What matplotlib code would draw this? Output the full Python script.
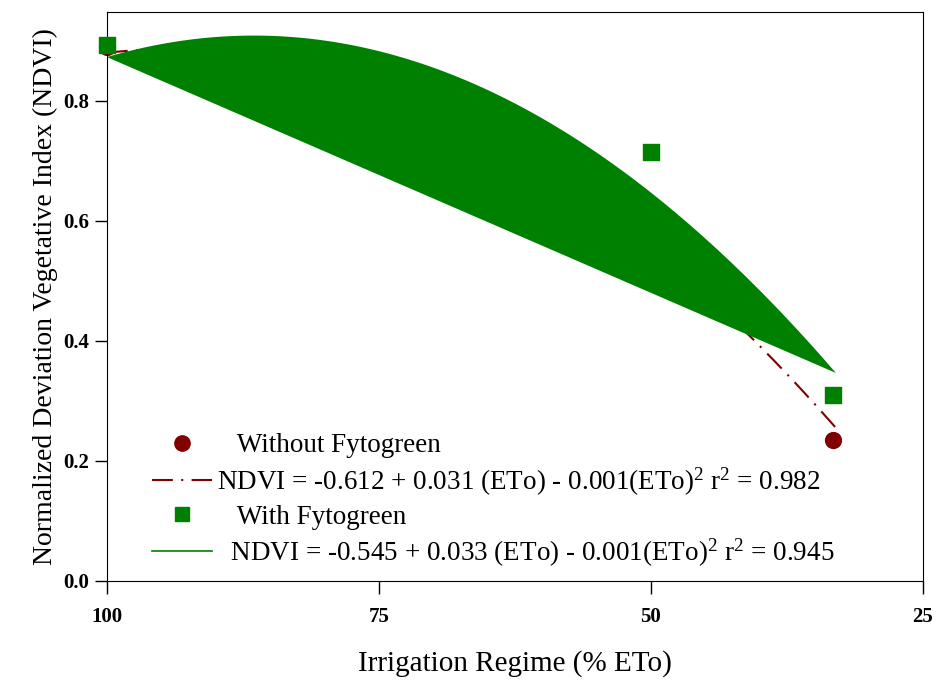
import matplotlib
matplotlib.use("Agg")
import matplotlib.pyplot as plt
import numpy as np
from matplotlib.lines import Line2D

plt.rcParams["font.family"] = ["Liberation Serif", "DejaVu Serif"]
plt.rcParams["mathtext.fontset"] = "custom"
plt.rcParams["mathtext.rm"] = "Liberation Serif"
plt.rcParams["mathtext.it"] = "Liberation Serif"

# measured data (% ETo, NDVI)
eto = [100, 50, 33.3]
ndvi_sin = [0.89, 0.60, 0.235]   # without Fytogreen
ndvi_con = [0.893, 0.715, 0.31]  # with Fytogreen

# points
fit_x_sin = [100, 40.3, 33]
fit_y_sin = [0.88, 0.397, 0.255]
fit_x_con = [100, 87, 50, 33]
fit_y_con = [0.875, 0.905, 0.65, 0.345]

lbl_sin = "NDVI = -0.612 + 0.031 (ETo) - 0.001(ETo)$^2$ r$^2$ = 0.982"
lbl_con = "  NDVI = -0.545 + 0.033 (ETo) - 0.001(ETo)$^2$ r$^2$ = 0.945"

rojo = "#800000"
verde = "#008000"

fig = plt.figure(figsize=(9.38, 6.8), dpi=100)
ax = fig.add_axes([0.114, 0.1456, 0.870, 0.8368])

xs = np.linspace(100, 33, 200)
p_sin = np.polyfit(fit_x_sin, fit_y_sin, 2)
p_con = np.polyfit(fit_x_con, fit_y_con, 2)

ax.plot(xs, np.polyval(p_sin, xs), color=rojo, lw=1.5,
        linestyle=(0, (10, 4, 1, 4)), zorder=2)
ax.scatter(eto, ndvi_sin, s=130, color=rojo, marker="o", zorder=2.5,
           clip_on=False)
# la curva con Fytogreen aparece rellena en el original
ax.fill(xs, np.polyval(p_con, xs), color=verde, lw=0, zorder=3)
ax.scatter(eto, ndvi_con, s=120, color=verde, marker="s", zorder=5,
           clip_on=False)

ax.set_xlim(100, 25)
ax.set_ylim(0, 0.948)
ax.set_xticks([100, 75, 50, 25])
ax.set_yticks([0.0, 0.2, 0.4, 0.6, 0.8])
ax.set_yticklabels(["0.0", "0.2", "0.4", "0.6", "0.8"])
ax.tick_params(direction="out", length=9, width=1, labelsize=15)
ax.tick_params(axis="x", pad=10)
for t in ax.get_xticklabels() + ax.get_yticklabels():
    t.set_fontweight("bold")

ax.set_xlabel("Irrigation Regime (% ETo)", fontsize=21, labelpad=16)
ax.set_ylabel("Normalized Deviation Vegetative Index (NDVI)", fontsize=20, labelpad=4)

handles = [
    Line2D([], [], color=rojo, marker="o", markersize=11, linestyle="none"),
    Line2D([], [], color=rojo, lw=1.5, linestyle=(0, (10, 4, 1, 4))),
    Line2D([], [], color=verde, marker="s", markersize=10, linestyle="none"),
    Line2D([], [], color=verde, lw=1.2),
]
labels = ["   Without Fytogreen", lbl_sin, "   With Fytogreen", lbl_con]
ax.legend(handles, labels, loc="lower left", bbox_to_anchor=(0.042, 0.002),
          frameon=False, fontsize=19.5, handlelength=2.2, handletextpad=0.2,
          labelspacing=0.26, borderaxespad=0.0)

plt.savefig("out.png", dpi=100)
plt.close()
